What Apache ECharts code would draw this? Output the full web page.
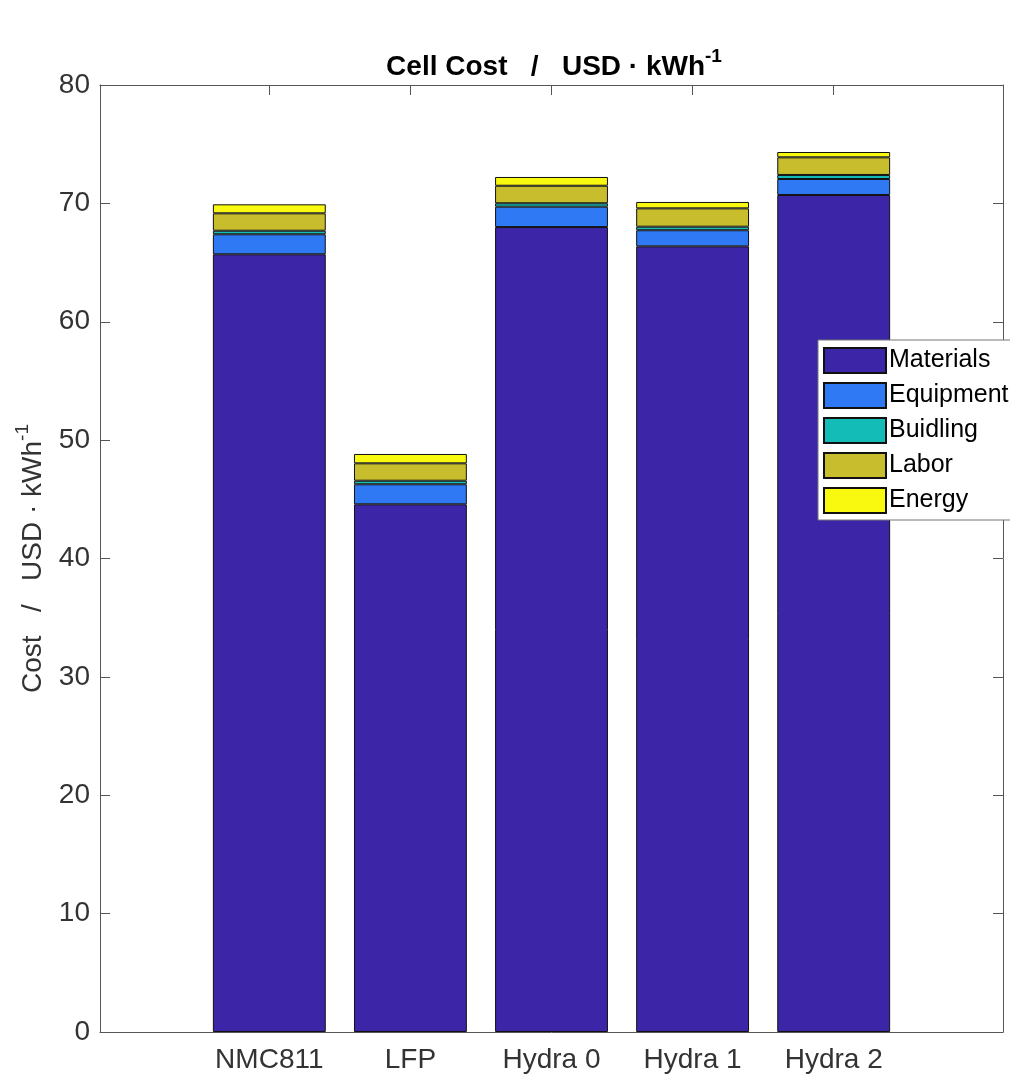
<!DOCTYPE html>
<html>
<head>
<meta charset="utf-8">
<script src="https://cdn.jsdelivr.net/npm/echarts@6/dist/echarts.min.js"></script>
<style>
  html, body { margin: 0; padding: 0; background: #fff; }
  #chart { width: 1010px; height: 1080px; }
</style>
</head>
<body>
<div id="chart"></div>
<script>
// Cell types, in bar order
const categories = ["NMC811", "LFP", "Hydra 0", "Hydra 1", "Hydra 2"];

// Cost components, USD / kWh
const materials = [65.7, 44.58, 68.0, 66.37, 70.71];
const equipment = [1.69, 1.69, 1.72, 1.36, 1.35];
const building = [0.30, 0.30, 0.29, 0.30, 0.34];
const labor = [1.47, 1.47, 1.48, 1.55, 1.49];
const energy = [0.76, 0.79, 0.74, 0.54, 0.45];

const yTicks = [0, 10, 20, 30, 40, 50, 60, 70, 80];

const FONT = "Liberation Sans, Arial, Helvetica, sans-serif";
const AXIS_COLOR = "#555";
const TEXT_COLOR = "#333";

// tick positions of the frame axis (MATLAB style 1..n, xlim -0.2..6.2)
const xPos = categories.map((_, i) => i + 1);

const components = [
  { name: "Materials", data: materials, color: "#3c26a7" },
  { name: "Equipment", data: equipment, color: "#3079f5" },
  { name: "Buidling", data: building, color: "#14bcb7" },
  { name: "Labor", data: labor, color: "#c8bd2c" },
  { name: "Energy", data: energy, color: "#f9f910" },
];

const chart = echarts.init(document.getElementById("chart"));

// frame grid spans 100..1003, bars grid is the inner part where 5 bands
// of one x-unit each sit (x from 0.5 to 5.5)
const PLOT_L = 100, PLOT_R = 1003;
const unit = (PLOT_R - PLOT_L) / 6.4;
const barsL = PLOT_L + 0.7 * unit;
const barsR = PLOT_L + 5.7 * unit;

const option = {
  animation: false,
  backgroundColor: "#fff",
  textStyle: { fontFamily: FONT },
  title: {
    text: "{t|Cell Cost   /   USD · kWh}{s|-1}",
    left: 549,
    textAlign: "center",
    top: 42,
    textStyle: {
      rich: {
        t: { fontFamily: FONT, fontSize: 28, fontWeight: "bold", color: "#000", lineHeight: 34, verticalAlign: "bottom" },
        s: { fontFamily: FONT, fontSize: 19, fontWeight: "bold", color: "#000", lineHeight: 34, verticalAlign: "top", padding: [0, 0, 16, 0] },
      },
    },
  },
  grid: [
    { left: PLOT_L, right: 1010 - PLOT_R, top: 85, bottom: 48, containLabel: false },
    { left: barsL, right: 1010 - barsR, top: 85, bottom: 48, containLabel: false },
  ],
  legend: {
    orient: "vertical",
    left: 818,
    top: 340,
    padding: [7, 40, 6, 5],
    icon: "rect",
    itemWidth: 62,
    itemHeight: 25,
    itemGap: 8,
    backgroundColor: "#fff",
    borderColor: "#777",
    borderWidth: 1,
    borderRadius: 0,
    textStyle: { fontFamily: FONT, fontSize: 25, color: "#000", padding: [0, 0, 0, -2] },
    data: components.map((c) => c.name),
  },
  xAxis: [
    {
      gridIndex: 0,
      type: "value",
      min: -0.2,
      max: 6.2,
      position: "bottom",
      splitLine: { show: false },
      axisLine: { show: true, onZero: false, lineStyle: { color: AXIS_COLOR, width: 1 } },
      axisTick: { show: true, inside: true, length: 10, customValues: xPos, lineStyle: { color: AXIS_COLOR } },
      axisLabel: {
        customValues: xPos,
        margin: 14,
        fontSize: 28,
        fontFamily: FONT,
        color: TEXT_COLOR,
        formatter: (v) => categories[Math.round(v) - 1] || "",
      },
    },
    {
      gridIndex: 0,
      type: "value",
      min: -0.2,
      max: 6.2,
      position: "top",
      splitLine: { show: false },
      axisLine: { show: true, onZero: false, lineStyle: { color: AXIS_COLOR, width: 1 } },
      axisTick: { show: true, inside: true, length: 10, customValues: xPos, lineStyle: { color: AXIS_COLOR } },
      axisLabel: { show: false },
    },
    {
      gridIndex: 1,
      type: "category",
      data: categories,
      show: false,
    },
  ],
  yAxis: [
    {
      gridIndex: 0,
      type: "value",
      min: 0,
      max: 80,
      interval: 10,
      position: "left",
      name: "{t|Cost   /   USD · kWh}{s|-1}",
      nameLocation: "middle",
      nameGap: 53,
      nameRotate: 90,
      nameTextStyle: {
        rich: {
          t: { fontFamily: FONT, fontSize: 28, color: TEXT_COLOR, lineHeight: 34, verticalAlign: "bottom" },
          s: { fontFamily: FONT, fontSize: 19, color: TEXT_COLOR, lineHeight: 34, verticalAlign: "top", padding: [0, 0, 16, 0] },
        },
      },
      splitLine: { show: false },
      axisLine: { show: true, onZero: false, lineStyle: { color: AXIS_COLOR, width: 1 } },
      axisTick: { show: true, inside: true, length: 10, lineStyle: { color: AXIS_COLOR } },
      axisLabel: {
        margin: 10,
        fontSize: 28,
        fontFamily: FONT,
        color: TEXT_COLOR,
        customValues: yTicks,
      },
    },
    {
      gridIndex: 0,
      type: "value",
      min: 0,
      max: 80,
      interval: 10,
      position: "right",
      splitLine: { show: false },
      axisLine: { show: true, onZero: false, lineStyle: { color: AXIS_COLOR, width: 1 } },
      axisTick: { show: true, inside: true, length: 10, lineStyle: { color: AXIS_COLOR } },
      axisLabel: { show: false },
    },
    {
      gridIndex: 1,
      type: "value",
      min: 0,
      max: 80,
      show: false,
    },
  ],
  series: components.map((c) => ({
    name: c.name,
    type: "bar",
    stack: "total",
    xAxisIndex: 2,
    yAxisIndex: 2,
    barWidth: "80%",
    data: c.data,
    itemStyle: {
      color: c.color,
      borderColor: "#111",
      borderWidth: 1,
    },
    emphasis: { disabled: true },
  })),
};

chart.setOption(option);
</script>
</body>
</html>
